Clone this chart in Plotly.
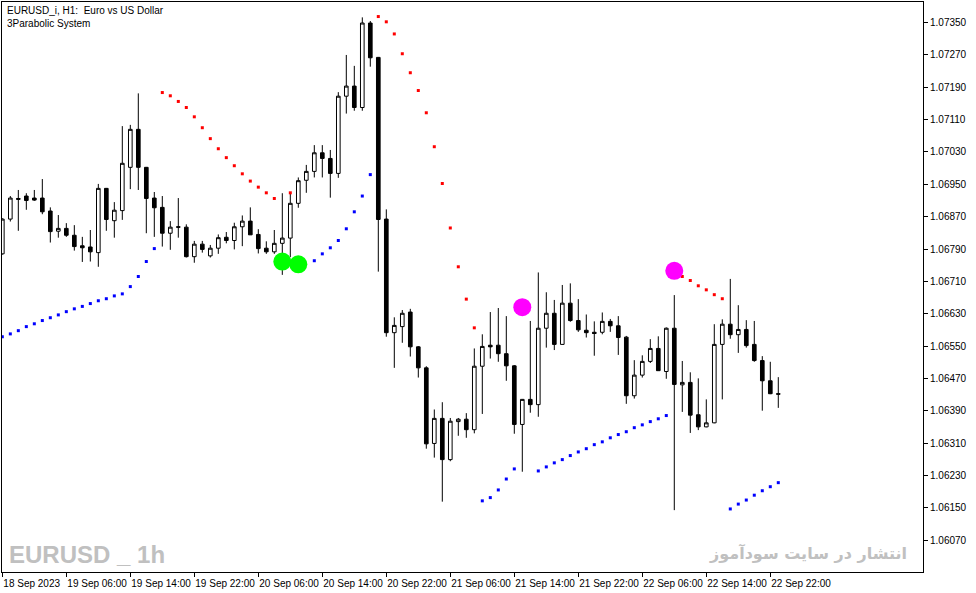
import plotly.graph_objects as go

# ---- data (EURUSD H1, 18 Sep 22:00 .. 22 Sep 23:00, bar index 0..97) ----
opens = [1.06778, 1.06864, 1.06915, 1.06921, 1.06916, 1.06916, 1.06884, 1.06834, 1.06841, 1.06824,
         1.06798, 1.06795, 1.06781, 1.06940, 1.06860, 1.06885, 1.06992, 1.07086, 1.06992, 1.06916,
         1.06893, 1.06829, 1.06845, 1.06844, 1.06771, 1.06802, 1.06773, 1.06792, 1.06819, 1.06811,
         1.06845, 1.06859, 1.06826, 1.06792, 1.06783, 1.06804, 1.06817, 1.06903, 1.06960, 1.06982,
         1.07028, 1.07014, 1.06977, 1.07168, 1.07193, 1.07140, 1.07349, 1.07264, 1.06864, 1.06583,
         1.06598, 1.06634, 1.06548, 1.06496, 1.06309, 1.06371, 1.06269, 1.06363, 1.06369, 1.06343,
         1.06500, 1.06552, 1.06552, 1.06531, 1.06501, 1.06356, 1.06418, 1.06405, 1.06594, 1.06631,
         1.06554, 1.06656, 1.06613, 1.06589, 1.06584, 1.06584, 1.06611, 1.06600, 1.06572, 1.06427,
         1.06478, 1.06512, 1.06544, 1.06487, 1.06594, 1.06454, 1.06460, 1.06380, 1.06350, 1.06360,
         1.06554, 1.06604, 1.06578, 1.06591, 1.06554, 1.06514, 1.06464, 1.06432]
highs = [1.06866, 1.06921, 1.06936, 1.06928, 1.06936, 1.06963, 1.06893, 1.06874, 1.06854, 1.06849,
         1.06820, 1.06837, 1.06951, 1.06941, 1.06906, 1.07094, 1.07097, 1.07175, 1.06993, 1.06931,
         1.06921, 1.06859, 1.06916, 1.06851, 1.06810, 1.06810, 1.06800, 1.06826, 1.06832, 1.06855,
         1.06873, 1.06893, 1.06839, 1.06809, 1.06837, 1.06928, 1.06929, 1.06967, 1.06998, 1.07047,
         1.07047, 1.07035, 1.07178, 1.07270, 1.07243, 1.07363, 1.07354, 1.07265, 1.06888, 1.06621,
         1.06639, 1.06642, 1.06550, 1.06500, 1.06393, 1.06411, 1.06372, 1.06372, 1.06384, 1.06544,
         1.06579, 1.06634, 1.06644, 1.06624, 1.06503, 1.06419, 1.06612, 1.06732, 1.06683, 1.06664,
         1.06701, 1.06705, 1.06666, 1.06628, 1.06611, 1.06633, 1.06617, 1.06624, 1.06575, 1.06515,
         1.06527, 1.06567, 1.06574, 1.06596, 1.06676, 1.06513, 1.06485, 1.06470, 1.06418, 1.06604,
         1.06616, 1.06716, 1.06651, 1.06614, 1.06612, 1.06525, 1.06511, 1.06473]
lows = [1.06776, 1.06858, 1.06835, 1.06887, 1.06909, 1.06876, 1.06806, 1.06818, 1.06820, 1.06786,
        1.06758, 1.06759, 1.06746, 1.06835, 1.06818, 1.06862, 1.06938, 1.06936, 1.06829, 1.06820,
        1.06796, 1.06788, 1.06818, 1.06769, 1.06756, 1.06781, 1.06769, 1.06778, 1.06804, 1.06789,
        1.06797, 1.06825, 1.06779, 1.06778, 1.06778, 1.06726, 1.06770, 1.06892, 1.06929, 1.06967,
        1.06967, 1.06917, 1.06966, 1.07125, 1.07132, 1.07132, 1.07241, 1.06734, 1.06573, 1.06496,
        1.06558, 1.06524, 1.06472, 1.06296, 1.06274, 1.06165, 1.06265, 1.06328, 1.06323, 1.06334,
        1.06382, 1.06519, 1.06511, 1.06464, 1.06333, 1.06239, 1.06385, 1.06375, 1.06546, 1.06540,
        1.06553, 1.06610, 1.06585, 1.06571, 1.06526, 1.06579, 1.06585, 1.06528, 1.06407, 1.06420,
        1.06472, 1.06508, 1.06489, 1.06469, 1.06144, 1.06387, 1.06335, 1.06342, 1.06349, 1.06359,
        1.06418, 1.06568, 1.06533, 1.06546, 1.06511, 1.06390, 1.06431, 1.06397]
closes = [1.06864, 1.06916, 1.06913, 1.06910, 1.06911, 1.06882, 1.06833, 1.06841, 1.06824, 1.06796,
          1.06793, 1.06783, 1.06940, 1.06863, 1.06886, 1.07002, 1.07086, 1.06992, 1.06915, 1.06892,
          1.06829, 1.06844, 1.06844, 1.06771, 1.06802, 1.06789, 1.06792, 1.06818, 1.06811, 1.06845,
          1.06859, 1.06825, 1.06791, 1.06783, 1.06804, 1.06817, 1.06903, 1.06959, 1.06982, 1.07028,
          1.07014, 1.06977, 1.07168, 1.07193, 1.07140, 1.07349, 1.07263, 1.06863, 1.06583, 1.06601,
          1.06631, 1.06548, 1.06496, 1.06308, 1.06371, 1.06269, 1.06364, 1.06369, 1.06343, 1.06500,
          1.06549, 1.06548, 1.06531, 1.06501, 1.06356, 1.06418, 1.06405, 1.06594, 1.06631, 1.06554,
          1.06656, 1.06613, 1.06590, 1.06583, 1.06581, 1.06611, 1.06600, 1.06571, 1.06427, 1.06478,
          1.06512, 1.06544, 1.06489, 1.06594, 1.06455, 1.06460, 1.06379, 1.06350, 1.06360, 1.06554,
          1.06604, 1.06578, 1.06591, 1.06551, 1.06514, 1.06464, 1.06432, 1.06431]

N = None
# Parabolic SAR below price (blue)
sar_below = [1.06573, 1.06580, 1.06588, 1.06598, 1.06605, 1.06613, 1.06620, 1.06627, 1.06635, 1.06642,
             1.06648, 1.06655, 1.06662, 1.06667, 1.06674, 1.06679, 1.06697, 1.06722, 1.06759, 1.06791,
             N, N, N, N, N, N, N, N, N, N,
             N, N, N, N, N, N, N, N, N, 1.06761,
             1.06778, 1.06793, 1.06811, 1.06840, 1.06882, 1.06921, 1.06974, N, N, N,
             N, N, N, N, N, N, N, N, N, N,
             1.06167, 1.06175, 1.06194, 1.06221, 1.06246, N, N, 1.06241, 1.06251, 1.06261,
             1.06269, 1.06279, 1.06288, 1.06296, 1.06306, 1.06313, 1.06323, 1.06331, 1.06338, 1.06348,
             1.06355, 1.06363, 1.06370, 1.06378, N, N, N, N, N, N,
             N, 1.06147, 1.06159, 1.06169, 1.06181, 1.06192, 1.06202, 1.06212]
# Parabolic SAR above price (red)
sar_above = [N, N, N, N, N, N, N, N, N, N,
             N, N, N, N, N, N, N, N, N, N,
             1.07177, 1.07169, 1.07155, 1.07140, 1.07117, 1.07090, 1.07063, 1.07038, 1.07016, 1.06996,
             1.06976, 1.06958, 1.06943, 1.06929, 1.06915, N, 1.06929, N, N, N,
             N, N, N, N, N, N, N, 1.07365, 1.07352, 1.07322,
             1.07273, 1.07226, 1.07182, 1.07127, 1.07043, 1.06952, 1.06842, 1.06746, 1.06666, 1.06595,
             N, N, N, N, N, N, N, N, N, N,
             N, N, N, N, N, N, N, N, N, N,
             N, N, N, N, N, 1.06722, 1.06712, 1.06699, 1.06689, 1.06677,
             1.06667, N, N, N, N, N, N, N]
# reversal signals (bar index, price)
buy_bars = [35, 37]
buy_prices = [1.06759, 1.06752]
sell_bars = [65, 84]
sell_prices = [1.06646, 1.06736]

x_tick_bars = [0, 8, 16, 24, 32, 40, 48, 56, 64, 72, 80, 88, 96]
x_tick_labels = ["18 Sep 2023", "19 Sep 06:00", "19 Sep 14:00", "19 Sep 22:00", "20 Sep 06:00",
                 "20 Sep 14:00", "20 Sep 22:00", "21 Sep 06:00", "21 Sep 14:00", "21 Sep 22:00",
                 "22 Sep 06:00", "22 Sep 14:00", "22 Sep 22:00"]
y_tick_vals = [1.06070, 1.06150, 1.06230, 1.06310, 1.06390, 1.06470, 1.06550, 1.06630, 1.06710,
               1.06790, 1.06870, 1.06950, 1.07030, 1.07110, 1.07190, 1.07270, 1.07350]
y_tick_labels = ["%.5f" % v for v in y_tick_vals]

bars = list(range(len(opens)))
FONT = "Liberation Sans, Arial, sans-serif"

fig = go.Figure()
fig.add_trace(go.Candlestick(
    x=bars, open=opens, high=highs, low=lows, close=closes,
    increasing=dict(line=dict(color="black", width=1), fillcolor="white"),
    decreasing=dict(line=dict(color="black", width=1), fillcolor="black"),
    whiskerwidth=0, hoverinfo="skip", showlegend=False))
fig.add_trace(go.Scatter(x=bars, y=sar_below, mode="markers", hoverinfo="skip", showlegend=False,
                         marker=dict(symbol="square", size=3, color="#0000ff", line=dict(width=0))))
fig.add_trace(go.Scatter(x=bars, y=sar_above, mode="markers", hoverinfo="skip", showlegend=False,
                         marker=dict(symbol="square", size=3, color="#ff0000", line=dict(width=0))))
fig.add_trace(go.Scatter(x=buy_bars, y=buy_prices, mode="markers", hoverinfo="skip", showlegend=False,
                         marker=dict(symbol="circle", size=18, color="#00ff00", line=dict(width=0))))
fig.add_trace(go.Scatter(x=sell_bars, y=sell_prices, mode="markers", hoverinfo="skip", showlegend=False,
                         marker=dict(symbol="circle", size=18, color="#ff00ff", line=dict(width=0))))

fig.update_layout(
    width=976, height=593,
    margin=dict(l=2, r=53, t=2, b=21, pad=0, autoexpand=False),
    paper_bgcolor="white", plot_bgcolor="white",
    showlegend=False, hovermode=False, boxgap=0.35,
    font=dict(family=FONT, size=10, color="black"),
    xaxis=dict(range=[-0.04, 115.09], tickmode="array", tickvals=x_tick_bars, ticktext=x_tick_labels,
               ticks="outside", ticklen=4, tickwidth=1, tickcolor="black", tickangle=0,
               ticklabelposition="outside right", ticklabelstandoff=2, automargin=False,
               showline=True, linecolor="black", linewidth=1, mirror=True,
               showgrid=False, zeroline=False, rangeslider=dict(visible=False),
               tickfont=dict(family=FONT, size=10, color="black")),
    yaxis=dict(side="right", range=[1.05991, 1.07401], tickmode="array",
               tickvals=y_tick_vals, ticktext=y_tick_labels, automargin=False,
               ticks="outside", ticklen=4, tickwidth=1, tickcolor="black",
               showline=True, linecolor="black", linewidth=1, mirror=True,
               showgrid=False, zeroline=False,
               tickfont=dict(family=FONT, size=10, color="black")),
)

fig.add_annotation(xref="paper", yref="paper", x=0, y=1, xanchor="left", yanchor="top",
                   xshift=3, yshift=-1, showarrow=False, align="left",
                   text="EURUSD_i, H1:\u00a0 Euro vs US Dollar<br>3Parabolic System",
                   font=dict(family=FONT, size=10, color="black"))
fig.add_annotation(xref="paper", yref="paper", x=0, y=0, xanchor="left", yanchor="bottom",
                   xshift=5, yshift=2, showarrow=False,
                   text="<b>EURUSD _ 1h</b>",
                   font=dict(family=FONT, size=24, color="#c0c0c0"))
fig.add_annotation(xref="paper", yref="paper", x=1, y=0.0333, xanchor="right", yanchor="middle",
                   xshift=-14, showarrow=False,
                   text="<b>انتشار در سایت سودآموز</b>",
                   font=dict(family="DejaVu Sans, Noto Sans, sans-serif", size=16, color="#c0c0c0"))

fig.write_html("out.html", config={"displayModeBar": False},
               post_script="document.body.style.margin='0';document.body.style.padding='0';")
